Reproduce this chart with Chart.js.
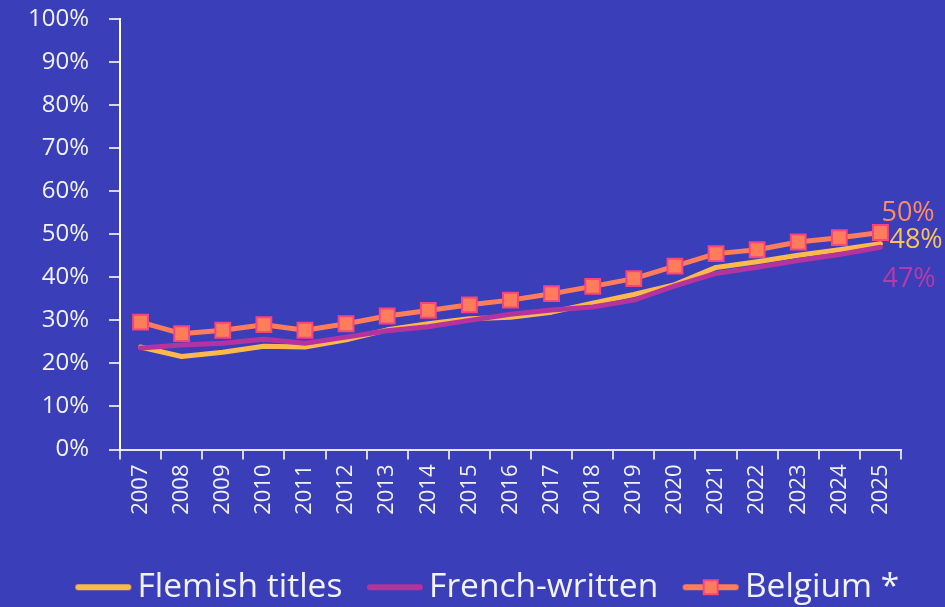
<!DOCTYPE html>
<html>
<head>
<meta charset="utf-8">
<script src="https://cdn.jsdelivr.net/npm/chart.js@4"></script>
<style>
  html, body { margin: 0; padding: 0; background: #3a3eb8; }
  #wrap { width: 945px; height: 607px; }
</style>
</head>
<body>
<div id="wrap"><canvas id="shareChart"></canvas></div>
<script>
const years = ["2007", "2008", "2009", "2010", "2011", "2012", "2013", "2014", "2015", "2016",
  "2017", "2018", "2019", "2020", "2021", "2022", "2023", "2024", "2025"];
const flemish = [23.8, 21.6, 22.6, 24.0, 23.8, 25.5, 27.8, 29.2, 30.4, 30.7, 31.9, 34.0, 36.0, 38.3, 42.3, 43.6, 45.1, 46.4, 47.8];
const french = [23.6, 24.3, 24.7, 25.6, 24.7, 26.1, 27.6, 28.5, 30.0, 31.4, 32.4, 33.1, 34.7, 38.0, 40.9, 42.3, 43.9, 45.3, 47.0];
const belgium = [29.6, 26.9, 27.7, 29.0, 27.7, 29.2, 31.0, 32.3, 33.6, 34.7, 36.2, 37.9, 39.7, 42.6, 45.5, 46.4, 48.2, 49.2, 50.4];
const seriesNames = ["Flemish titles", "French-written", "Belgium *"];
const yTicks = [0, 10, 20, 30, 40, 50, 60, 70, 80, 90, 100];

const YELLOW = "#ffb84c";
const PURPLE = "#b5339f";
const ORANGE = "#ff7d5a";
const PINK = "#f8437c";
const TEXT = "#f2f2fa";
const FONT = "'Open Sans', sans-serif";

// little legend swatches: a line, the last one with a square marker
function legendImg(color, square) {
  const c = document.createElement("canvas");
  c.width = 60;
  c.height = 18;
  const g = c.getContext("2d");
  g.strokeStyle = color;
  g.lineWidth = 6;
  g.lineCap = "round";
  g.beginPath();
  g.moveTo(5, 9);
  g.lineTo(55, 9);
  g.stroke();
  if (square) {
    g.fillStyle = ORANGE;
    g.strokeStyle = PINK;
    g.lineWidth = 2;
    g.fillRect(23, 2, 14, 14);
    g.strokeRect(23, 2, 14, 14);
  }
  return c;
}
const swatches = [legendImg(YELLOW, false), legendImg(PURPLE, false), legendImg(ORANGE, true)];

// value labels next to the last point of each line
const endLabelStyle = [
  { color: "#ffc15c", dx: 9, dy: -3 },
  { color: "#b83aa8", dx: 2, dy: 32 },
  { color: "#ff8a66", dx: 1, dy: -19 }
];

const endLabels = {
  id: "endLabels",
  afterDatasetsDraw(chart) {
    const { ctx } = chart;
    ctx.save();
    ctx.font = "27px " + FONT;
    ctx.textBaseline = "middle";
    ctx.textAlign = "left";
    chart.data.datasets.forEach((ds, i) => {
      const meta = chart.getDatasetMeta(i);
      const pt = meta.data[meta.data.length - 1];
      const st = endLabelStyle[i];
      ctx.fillStyle = st.color;
      ctx.fillText(Math.round(ds.data[ds.data.length - 1]) + "%", pt.x + st.dx, pt.y + st.dy);
    });
    ctx.restore();
  }
};

// the legend sits a bit right of the centre in the original
const legendShift = {
  id: "legendShift",
  afterLayout(chart) {
    chart.legend.left += 42;
    chart.legend.right += 42;
  }
};

Chart.defaults.font.family = FONT;
Chart.defaults.color = TEXT;

new Chart(document.getElementById("shareChart"), {
  type: "line",
  data: {
    labels: years,
    datasets: [
      {
        label: seriesNames[0],
        data: flemish,
        borderColor: YELLOW,
        borderWidth: 5,
        pointRadius: 0,
        order: 3
      },
      {
        label: seriesNames[1],
        data: french,
        borderColor: PURPLE,
        borderWidth: 5,
        pointRadius: 0,
        order: 2
      },
      {
        label: seriesNames[2],
        data: belgium,
        borderColor: ORANGE,
        borderWidth: 5,
        pointStyle: "rect",
        pointRadius: 10.5,
        pointBackgroundColor: ORANGE,
        pointBorderColor: PINK,
        pointBorderWidth: 2,
        order: 1
      }
    ]
  },
  options: {
    responsive: true,
    maintainAspectRatio: false,
    animation: false,
    elements: {
      line: { tension: 0, borderCapStyle: "round", borderJoinStyle: "round" }
    },
    layout: { padding: { top: 19, right: 44, left: 0, bottom: -7 } },
    plugins: {
      tooltip: { enabled: false },
      legend: {
        position: "bottom",
        labels: {
          usePointStyle: true,
          pointStyleWidth: 35,
          boxHeight: 18,
          padding: 35,
          color: TEXT,
          font: { size: 33.5, lineHeight: 0.7 },
          sort: (a, b) => a.datasetIndex - b.datasetIndex,
          generateLabels(chart) {
            const items = Chart.defaults.plugins.legend.labels.generateLabels(chart);
            items.forEach(it => { it.pointStyle = swatches[it.datasetIndex]; });
            return items;
          }
        }
      }
    },
    scales: {
      x: {
        offset: true,
        grid: { offset: true, drawOnChartArea: false, tickLength: 10, color: "#d6d6ea", lineWidth: 2 },
        border: { color: "#e8e8f4", width: 2 },
        ticks: { maxRotation: 90, minRotation: 90, padding: 5, font: { size: 22 }, color: TEXT },
        afterFit(scale) { scale.height = 86; }
      },
      y: {
        min: 0,
        max: 100,
        afterBuildTicks(scale) { scale.ticks = yTicks.map(v => ({ value: v })); },
        grid: { drawOnChartArea: false, tickLength: 11, color: "#d6d6ea", lineWidth: 2 },
        border: { color: "#ffffff", width: 2 },
        ticks: { padding: 20, font: { size: 24 }, color: TEXT, callback: v => v + "%" },
        afterFit(scale) {
          scale.width = 120;
          scale.paddingTop = 0;
          scale.paddingBottom = 0;
        }
      }
    }
  },
  plugins: [endLabels, legendShift]
});
</script>
</body>
</html>
